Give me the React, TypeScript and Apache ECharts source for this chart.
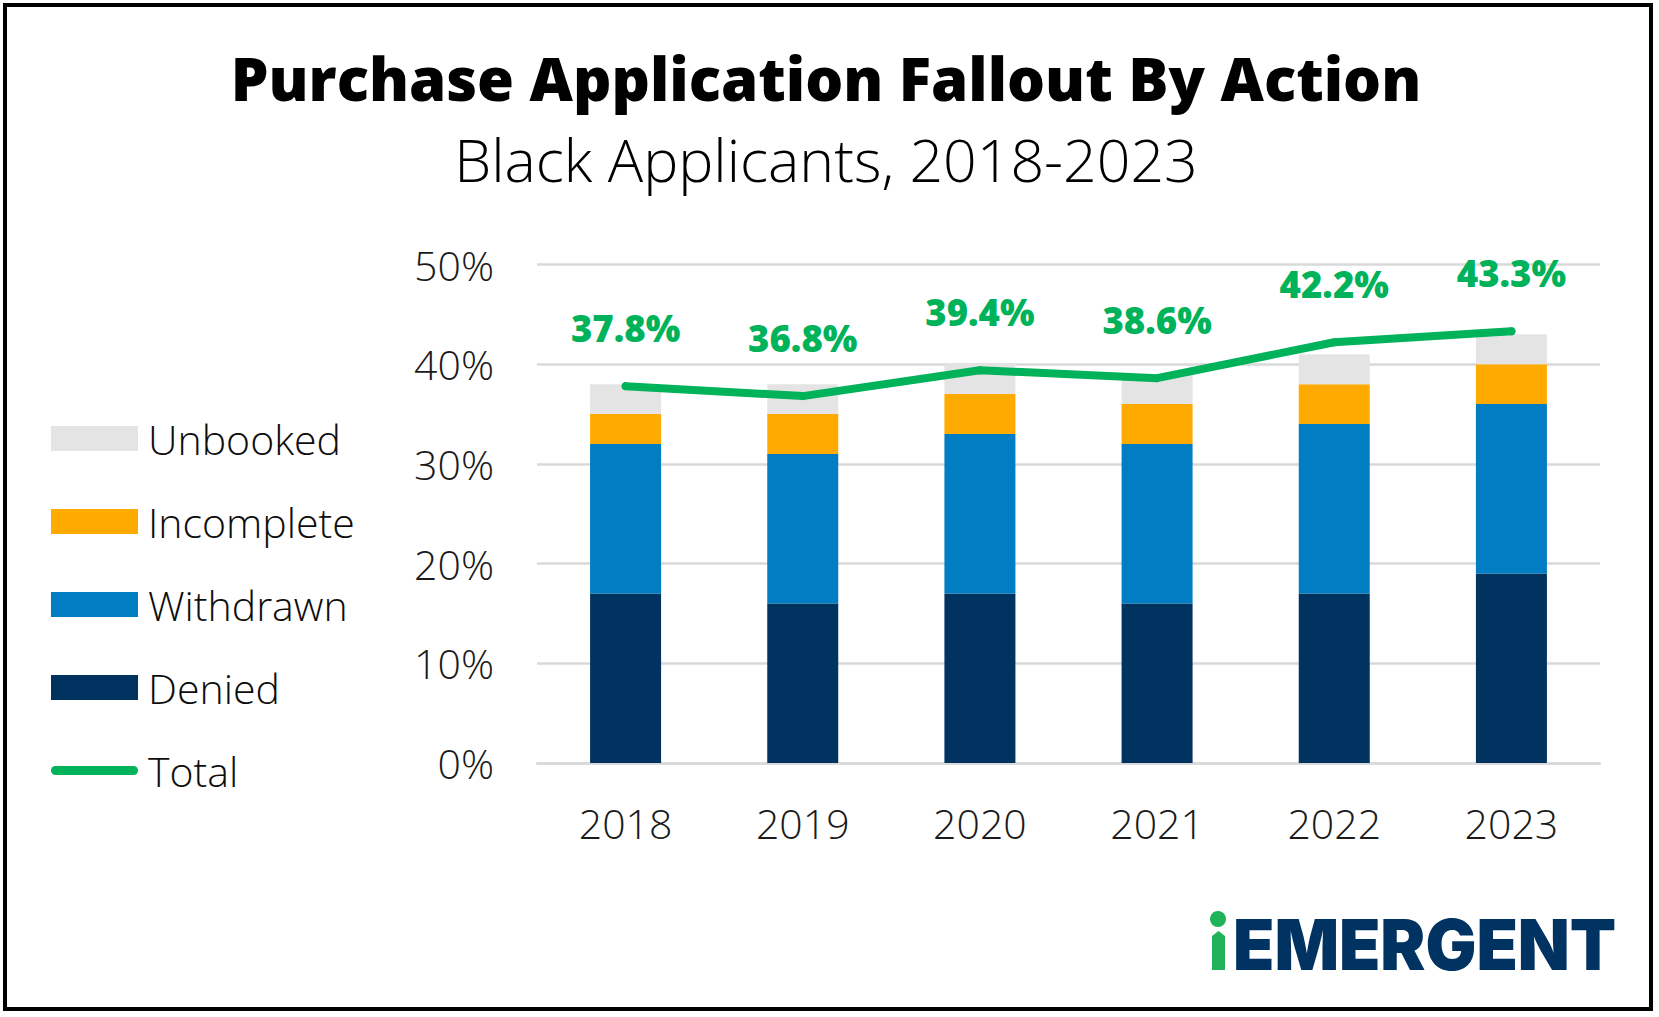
import React, { useEffect, useRef } from "react";
import * as echarts from "echarts";

// Fallout shares (percent of purchase applications) by year
const years = ["2018", "2019", "2020", "2021", "2022", "2023"];
const denied = [17, 16, 17, 16, 17, 19];
const withdrawn = [15, 15, 16, 16, 17, 17];
const incomplete = [3, 4, 4, 4, 4, 4];
const unbooked = [3, 3, 3, 3, 3, 3];
const total = [37.8, 36.8, 39.4, 38.6, 42.2, 43.3];

const seriesNames = ["Unbooked", "Incomplete", "Withdrawn", "Denied", "Total"];

const COLORS = {
  unbooked: "#e4e4e4",
  incomplete: "#ffaa00",
  withdrawn: "#007dc3",
  denied: "#00335f",
  total: "#00b259",
  logoNavy: "#003362",
  logoGreen: "#21b35a",
};

const FONT = '"Open Sans", "Noto Sans", sans-serif';

export default function App() {
  const ref = useRef<HTMLDivElement>(null);

  useEffect(() => {
    if (!ref.current) return;
    const chart = echarts.init(ref.current, undefined, { renderer: "svg" });

    const barSeries = (name: string, data: number[], color: string) => ({
      name,
      type: "bar",
      stack: "fallout",
      data,
      barWidth: 71,
      itemStyle: { color },
      emphasis: { disabled: true },
    });

    chart.setOption({
      animation: false,
      backgroundColor: "#ffffff",
      grid: { left: 537, right: 59, top: 264.5, bottom: 254, containLabel: false },
      legend: {
        orient: "vertical",
        left: 46,
        top: 413,
        itemWidth: 87,
        itemHeight: 25,
        itemGap: 42,
        selectedMode: false,
        symbolKeepAspect: true,
        textStyle: {
          fontFamily: FONT,
          fontSize: 41,
          fontWeight: 300,
          color: "#0d0d0d",
          lineHeight: 40,
          padding: [0, 0, 0, 5],
        },
        data: [
          { name: seriesNames[0], icon: "rect" },
          { name: seriesNames[1], icon: "rect" },
          { name: seriesNames[2], icon: "rect" },
          { name: seriesNames[3], icon: "rect" },
          {
            name: seriesNames[4],
            icon: "path://M5,0 L92,0 A5,5 0 0 1 92,10 L5,10 A5,5 0 0 1 5,0 Z",
            itemStyle: { color: COLORS.total },
          },
        ],
      },
      xAxis: {
        type: "category",
        data: years,
        axisLine: { show: true, lineStyle: { color: "#d9d9d9", width: 2.5 } },
        axisTick: { show: false },
        axisLabel: {
          margin: 39,
          fontFamily: FONT,
          fontSize: 41,
          fontWeight: 300,
          color: "#1a1a1a",
        },
      },
      yAxis: {
        type: "value",
        min: 0,
        max: 50,
        interval: 10,
        axisLine: { show: false },
        axisTick: { show: false },
        splitLine: { lineStyle: { color: "#d9d9d9", width: 2.5 } },
        axisLabel: {
          margin: 43,
          formatter: "{value}%",
          fontFamily: FONT,
          fontSize: 41,
          fontWeight: 300,
          color: "#1a1a1a",
        },
      },
      series: [
        barSeries(seriesNames[3], denied, COLORS.denied),
        barSeries(seriesNames[2], withdrawn, COLORS.withdrawn),
        barSeries(seriesNames[1], incomplete, COLORS.incomplete),
        barSeries(seriesNames[0], unbooked, COLORS.unbooked),
        {
          name: seriesNames[4],
          type: "line",
          data: total,
          symbol: "circle",
          symbolSize: 8,
          showSymbol: true,
          itemStyle: { color: COLORS.total },
          lineStyle: { color: COLORS.total, width: 8, cap: "round", join: "round" },
          emphasis: { disabled: true },
          z: 5,
          label: {
            show: true,
            position: "top",
            distance: 36,
            formatter: (p: any) => `${p.value.toFixed(1)}%`,
            fontFamily: FONT,
            fontSize: 36.5,
            fontWeight: 800,
            color: COLORS.total,
          },
        },
      ],
      graphic: [
        {
          type: "rect",
          shape: { x: 5, y: 5, width: 1646, height: 1004 },
          style: { fill: "none", stroke: "#000000", lineWidth: 4 },
          silent: true,
        },
        {
          type: "text",
          x: 826,
          y: 78,
          style: {
            text: "Purchase Application Fallout By Action",
            fontFamily: FONT,
            fontSize: 59.8,
            fontWeight: 800,
            fill: "#000000",
            align: "center",
            verticalAlign: "middle",
          },
        },
        {
          type: "text",
          x: 826,
          y: 159,
          style: {
            text: "Black Applicants, 2018-2023",
            fontFamily: FONT,
            fontSize: 59,
            fontWeight: 300,
            fill: "#000000",
            align: "center",
            verticalAlign: "middle",
          },
        },
        // logo mark: green "i"
        {
          type: "circle",
          shape: { cx: 1218, cy: 919, r: 8 },
          style: { fill: COLORS.logoGreen },
        },
        {
          type: "polygon",
          shape: {
            points: [
              [1212, 936],
              [1218.5, 931],
              [1225, 936],
              [1225, 970],
              [1212, 970],
            ],
          },
          style: { fill: COLORS.logoGreen },
        },
        {
          type: "text",
          x: 1233,
          y: 945,
          scaleX: 0.965,
          style: {
            text: "EMERGENT",
            fontFamily: "Inter, sans-serif",
            fontSize: 70,
            fontWeight: 900,
            fill: COLORS.logoNavy,
            align: "left",
            verticalAlign: "middle",
          },
        },
      ],
    });

    return () => chart.dispose();
  }, []);

  return (
    <div
      ref={ref}
      style={{ position: "absolute", left: 0, top: 0, width: 1659, height: 1017, background: "#fff" }}
    />
  );
}
